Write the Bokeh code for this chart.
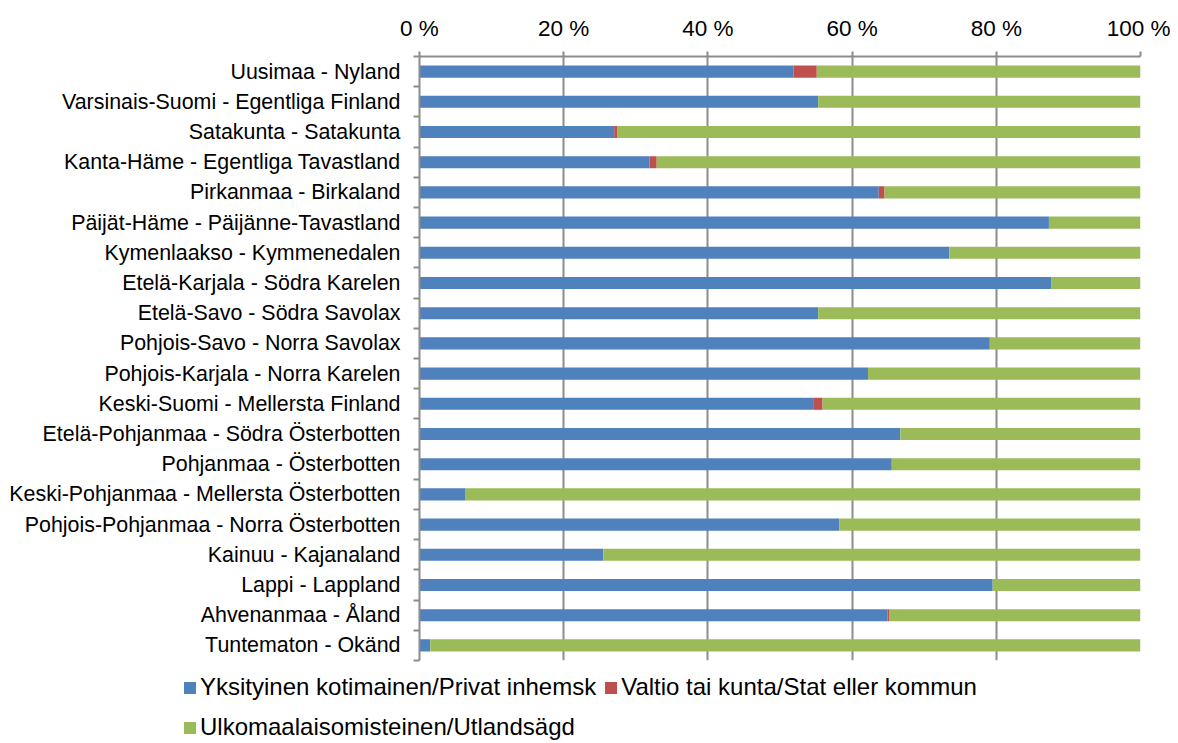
from bokeh.plotting import figure
from bokeh.models import (ColumnDataSource, Range1d, FixedTicker, Legend, LegendItem)
from bokeh.embed import file_html
from bokeh.resources import INLINE

regions = [
    "Uusimaa - Nyland",
    "Varsinais-Suomi - Egentliga Finland",
    "Satakunta - Satakunta",
    "Kanta-Häme - Egentliga Tavastland",
    "Pirkanmaa - Birkaland",
    "Päijät-Häme - Päijänne-Tavastland",
    "Kymenlaakso - Kymmenedalen",
    "Etelä-Karjala - Södra Karelen",
    "Etelä-Savo - Södra Savolax",
    "Pohjois-Savo - Norra Savolax",
    "Pohjois-Karjala - Norra Karelen",
    "Keski-Suomi - Mellersta Finland",
    "Etelä-Pohjanmaa - Södra Österbotten",
    "Pohjanmaa - Österbotten",
    "Keski-Pohjanmaa - Mellersta Österbotten",
    "Pohjois-Pohjanmaa - Norra Österbotten",
    "Kainuu - Kajanaland",
    "Lappi - Lappland",
    "Ahvenanmaa - Åland",
    "Tuntematon - Okänd",
]
private = [51.9, 55.3, 27.0, 31.9, 63.7, 87.3, 73.5, 87.6, 55.3, 79.1,
           62.2, 54.7, 66.7, 65.5, 6.4, 58.2, 25.5, 79.5, 64.9, 1.5]
state = [3.2, 0.0, 0.4, 1.0, 0.8, 0.0, 0.0, 0.0, 0.0, 0.0,
         0.0, 1.2, 0.0, 0.0, 0.0, 0.0, 0.0, 0.0, 0.3, 0.0]
foreign = [44.9, 44.7, 72.6, 67.1, 35.5, 12.7, 26.5, 12.4, 44.7, 20.9,
           37.8, 44.1, 33.3, 34.5, 93.6, 41.8, 74.5, 20.5, 34.8, 98.5]
series_names = ["Yksityinen kotimainen/Privat inhemsk",
                "Valtio tai kunta/Stat eller kommun",
                "Ulkomaalaisomisteinen/Utlandsägd"]
x_ticks = [0, 20, 40, 60, 80, 100]
x_tick_labels = ["0 %", "20 %", "40 %", "60 %", "80 %", "100 %"]

colors = ["#4F81BD", "#C0504D", "#9BBB59"]
FONT = "Liberation Sans"
GRAY = "#8C8C8C"

n = len(regions)
ypos = [i + 0.5 for i in range(n)]
source = ColumnDataSource(dict(y=ypos, private=private, state=state, foreign=foreign))

p = figure(width=1170, height=668, output_backend="svg", toolbar_location=None,
           x_range=Range1d(0, 100), y_range=Range1d(n, 0),
           x_axis_location="above", tools="")
p.min_border_left = 419
p.min_border_right = 30
p.min_border_top = 56
p.min_border_bottom = 8
p.outline_line_color = None
p.background_fill_color = "white"
p.border_fill_color = "white"

rs = p.hbar_stack(["private", "state", "foreign"], y="y", height=0.4,
                  color=colors, line_color=None, source=source)

# top x axis
xa = p.xaxis[0]
xa.ticker = FixedTicker(ticks=x_ticks)
xa.major_label_overrides = {t: l for t, l in zip(x_ticks, x_tick_labels)}
xa.axis_line_color = GRAY
xa.axis_line_width = 2
xa.major_tick_line_color = GRAY
xa.major_tick_line_width = 2
xa.major_tick_in = 0
xa.major_tick_out = 5
xa.minor_tick_line_color = None
xa.major_label_standoff = 11
xa.major_label_text_font = FONT
xa.major_label_text_font_size = "22.5px"
xa.major_label_text_color = "#000000"

# left y axis
ya = p.yaxis[0]
ya.ticker = FixedTicker(ticks=ypos, minor_ticks=list(range(n + 1)))
ya.major_label_overrides = {y: r for y, r in zip(ypos, regions)}
ya.axis_line_color = GRAY
ya.axis_line_width = 2
ya.major_tick_line_color = None
ya.major_tick_in = 0
ya.major_tick_out = 0
ya.minor_tick_line_color = GRAY
ya.minor_tick_line_width = 2
ya.minor_tick_in = 0
ya.minor_tick_out = 6
ya.major_label_standoff = 13
ya.major_label_text_font = FONT
ya.major_label_text_font_size = "21.4px"
ya.major_label_text_color = "#000000"

p.ygrid.grid_line_color = None
p.xgrid.ticker = FixedTicker(ticks=x_ticks)
p.xgrid.grid_line_color = GRAY
p.xgrid.grid_line_width = 2

# legend strip: its own root so that its frame is not aligned to the chart's
lf = figure(width=1170, height=75, output_backend="svg", toolbar_location=None,
            x_range=Range1d(0, 100), y_range=Range1d(200, 201),
            x_axis_type=None, y_axis_type=None, tools="")
lf.min_border_left = 0
lf.min_border_right = 0
lf.min_border_top = 0
lf.min_border_bottom = 0
lf.outline_line_color = None
lf.xgrid.grid_line_color = None
lf.ygrid.grid_line_color = None
lf.background_fill_color = "white"
lf.border_fill_color = "white"

# legend keys share the chart's data; they lie outside this strip's range
keys = lf.hbar_stack(["private", "state", "foreign"], y="y", height=0.4,
                     color=colors, line_color=None, source=source)

def make_legend(items, loc):
    return Legend(items=items, location=loc, orientation="horizontal",
                  border_line_color=None, background_fill_alpha=0,
                  padding=0, margin=0, spacing=7, label_standoff=3,
                  glyph_width=15, glyph_height=15, label_height=24,
                  label_text_font=FONT, label_text_font_size="24px",
                  label_text_color="#000000")

leg1 = make_legend([LegendItem(label=series_names[0], renderers=[keys[0]]),
                    LegendItem(label=series_names[1], renderers=[keys[1]])], (182, 42))
leg2 = make_legend([LegendItem(label=series_names[2], renderers=[keys[2]])], (182, 2))
lf.add_layout(leg1, "center")
lf.add_layout(leg2, "center")

open("out.html", "w").write(file_html([p, lf], INLINE))
